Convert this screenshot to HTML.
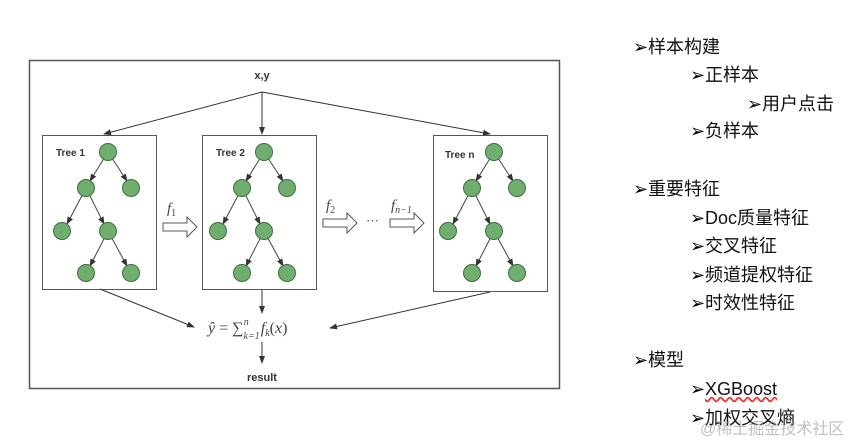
<!DOCTYPE html>
<html><head><meta charset="utf-8"><style>
body{margin:0;background:#fff;width:866px;height:445px;overflow:hidden;position:relative;font-family:"Liberation Sans","Noto Sans CJK SC",sans-serif}
.t{position:absolute;font-size:18px;color:#111;white-space:nowrap;line-height:20px}
.ar{font-family:"DejaVu Sans",sans-serif;font-size:18px;color:#000;display:inline-block;width:15px}
</style></head><body>
<svg width="866" height="445" style="position:absolute;left:0;top:0">
<defs>
<marker id="a" markerWidth="8" markerHeight="8" refX="7" refY="4" orient="auto" markerUnits="userSpaceOnUse"><path d="M0,1 L8,4 L0,7 z" fill="#333"/></marker>
<g id="tree">
<g stroke="#444" stroke-width="1" marker-end="url(#a)">
<line x1="108" y1="152" x2="90" y2="181"/><line x1="108" y1="152" x2="127" y2="181"/>
<line x1="86" y1="188" x2="67" y2="224"/><line x1="86" y1="188" x2="104" y2="224"/>
<line x1="108" y1="231" x2="90" y2="266"/><line x1="108" y1="231" x2="127" y2="266"/>
</g>
<g fill="#6fae6f" stroke="#3f6f3f" stroke-width="1">
<circle cx="108" cy="152" r="8.5"/><circle cx="86" cy="188" r="8.5"/><circle cx="131" cy="188" r="8.5"/>
<circle cx="62" cy="231" r="8.5"/><circle cx="108" cy="231" r="8.5"/><circle cx="86" cy="273" r="8.5"/><circle cx="131" cy="273" r="8.5"/>
</g>
</g>
<path id="ha" d="M0,-4 L24,-4 L24,-10 L34,0 L24,10 L24,4 L0,4 z" fill="#fff" stroke="#555" stroke-width="1"/>
</defs>
<rect x="29.5" y="60.5" width="530" height="328" fill="none" stroke="#555" stroke-width="1.5"/>
<rect x="42.5" y="135.5" width="114" height="154" fill="none" stroke="#555"/>
<rect x="202.5" y="135.5" width="114" height="154" fill="none" stroke="#555"/>
<rect x="433.5" y="135.5" width="114" height="156" fill="none" stroke="#555"/>
<use href="#tree"/>
<use href="#tree" transform="translate(156,0)"/>
<use href="#tree" transform="translate(386,0)"/>
<g font-size="10" font-weight="bold" fill="#333" font-family="Liberation Sans, sans-serif">
<text x="56" y="156">Tree 1</text><text x="216" y="156">Tree 2</text><text x="445" y="158">Tree n</text>
<text x="262" y="79" text-anchor="middle" font-size="11">x,y</text>
<text x="262" y="381" text-anchor="middle" font-size="11">result</text>
</g>
<g stroke="#333" stroke-width="1" marker-end="url(#a)">
<line x1="262" y1="92" x2="104" y2="134"/>
<line x1="262" y1="92" x2="262" y2="134"/>
<line x1="262" y1="92" x2="490" y2="134"/>
<line x1="100" y1="289" x2="194" y2="327"/>
<line x1="262" y1="290" x2="262" y2="313"/>
<line x1="490" y1="292" x2="330" y2="328"/>
<line x1="262" y1="342" x2="262" y2="363"/>
</g>
<use href="#ha" transform="translate(163,227)"/>
<use href="#ha" transform="translate(323,223)"/>
<use href="#ha" transform="translate(390,223)"/>
<g font-family="Liberation Serif, serif" font-style="italic" fill="#444">
<text x="167" y="213" font-size="15">f<tspan font-size="10" font-style="normal" dy="3">1</tspan></text>
<text x="326" y="210" font-size="15">f<tspan font-size="10" font-style="normal" dy="3">2</tspan></text>
<text x="391" y="210" font-size="15">f<tspan font-size="10" dy="3">n−1</tspan></text>
<text x="366" y="225" font-size="13" font-style="normal">···</text>
<text x="208" y="333" font-size="16">ŷ <tspan font-style="normal">= ∑</tspan><tspan font-size="10" dy="6">k=1</tspan><tspan font-size="10" dx="-16" dy="-14">n</tspan><tspan dx="12" dy="8">f</tspan><tspan font-size="10" dy="3">k</tspan><tspan font-style="normal" dy="-3">(</tspan>x<tspan font-style="normal">)</tspan></text>
</g>
</svg>
<div class="t" style="left:633px;top:37px"><span class="ar">➢</span>样本构建</div>
<div class="t" style="left:690px;top:65px"><span class="ar">➢</span>正样本</div>
<div class="t" style="left:747px;top:94px"><span class="ar">➢</span>用户点击</div>
<div class="t" style="left:690px;top:121px"><span class="ar">➢</span>负样本</div>
<div class="t" style="left:633px;top:179px"><span class="ar">➢</span>重要特征</div>
<div class="t" style="left:690px;top:208px"><span class="ar">➢</span>Doc质量特征</div>
<div class="t" style="left:690px;top:236px"><span class="ar">➢</span>交叉特征</div>
<div class="t" style="left:690px;top:265px"><span class="ar">➢</span>频道提权特征</div>
<div class="t" style="left:690px;top:293px"><span class="ar">➢</span>时效性特征</div>
<div class="t" style="left:633px;top:350px"><span class="ar">➢</span>模型</div>
<div class="t" style="left:690px;top:379px"><span class="ar">➢</span><span style="text-decoration:underline wavy #e33">XGBoost</span></div>
<div class="t" style="left:690px;top:408px"><span class="ar">➢</span>加权交叉熵</div>
<div class="t" style="left:700px;top:420px;font-size:16px;color:rgba(150,150,150,0.6)">@稀土掘金技术社区</div>
</body></html>
